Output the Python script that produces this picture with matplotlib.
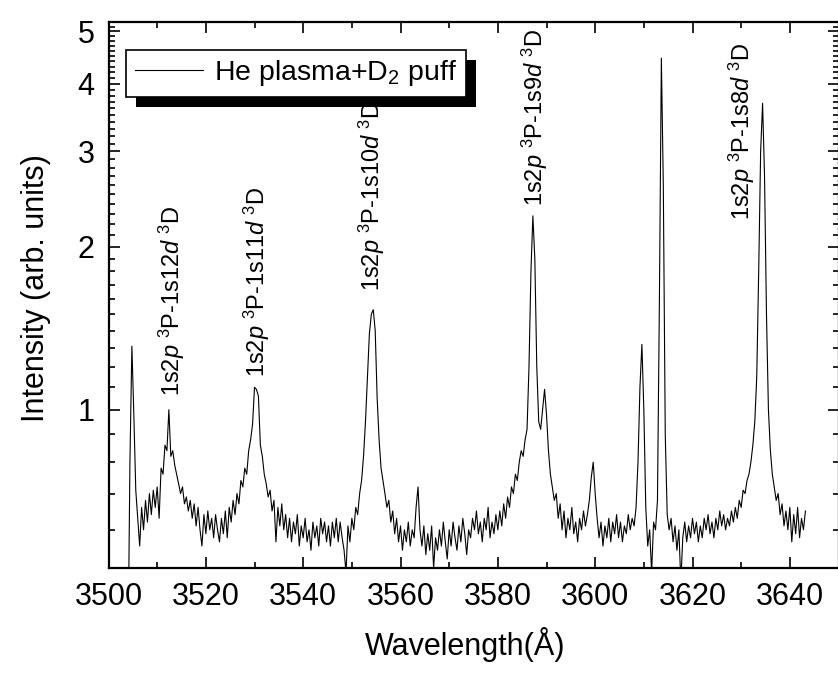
import numpy as np
import matplotlib
matplotlib.use('Agg')
import matplotlib.pyplot as plt
from matplotlib.patches import Rectangle
from matplotlib.ticker import NullFormatter

plt.rcParams['font.family'] = ['Liberation Sans', 'DejaVu Sans']
plt.rcParams['mathtext.fontset'] = 'custom'
plt.rcParams['mathtext.rm'] = 'Liberation Sans'
plt.rcParams['mathtext.it'] = 'Liberation Sans:italic'

# === data: spectrum, one point every 0.4 A from 3504.0 A ===
wl_start = 3504.0
wl_step = 0.4
intensity = [
    0.35, 0.80, 1.31, 0.98, 0.71, 0.63, 0.56, 0.66, 0.60, 0.68,   # 3504
    0.62, 0.70, 0.64, 0.71, 0.66, 0.72, 0.63, 0.78, 0.76, 0.86,   # 3508
    0.84, 1.00, 0.82, 0.84, 0.79, 0.76, 0.73, 0.70, 0.72, 0.67,   # 3512
    0.69, 0.65, 0.68, 0.63, 0.67, 0.61, 0.66, 0.60, 0.56, 0.64,   # 3516
    0.59, 0.65, 0.60, 0.63, 0.58, 0.64, 0.60, 0.57, 0.63, 0.59,   # 3520
    0.65, 0.58, 0.66, 0.62, 0.68, 0.64, 0.70, 0.67, 0.74, 0.72,   # 3524
    0.78, 0.76, 0.84, 0.88, 0.94, 1.10, 1.09, 1.06, 0.86, 0.82,   # 3528
    0.76, 0.73, 0.69, 0.71, 0.65, 0.68, 0.57, 0.66, 0.61, 0.67,   # 3532
    0.60, 0.64, 0.58, 0.63, 0.57, 0.62, 0.59, 0.64, 0.56, 0.61,   # 3536
    0.58, 0.63, 0.57, 0.60, 0.55, 0.62, 0.58, 0.61, 0.56, 0.63,   # 3540
    0.59, 0.62, 0.57, 0.61, 0.56, 0.62, 0.58, 0.63, 0.57, 0.62,   # 3544
    0.58, 0.55, 0.50, 0.61, 0.57, 0.63, 0.60, 0.66, 0.64, 0.70,   # 3548
    0.74, 0.82, 0.95, 1.15, 1.38, 1.50, 1.53, 1.40, 1.05, 0.88,   # 3552
    0.78, 0.74, 0.70, 0.66, 0.68, 0.62, 0.65, 0.59, 0.63, 0.57,   # 3556
    0.61, 0.55, 0.60, 0.57, 0.62, 0.56, 0.60, 0.58, 0.66, 0.72,   # 3560
    0.60, 0.56, 0.61, 0.54, 0.59, 0.55, 0.61, 0.51, 0.58, 0.55,   # 3564
    0.60, 0.56, 0.62, 0.57, 0.53, 0.60, 0.56, 0.62, 0.58, 0.55,   # 3568
    0.61, 0.57, 0.63, 0.59, 0.54, 0.60, 0.58, 0.63, 0.60, 0.65,   # 3572
    0.59, 0.62, 0.57, 0.63, 0.60, 0.66, 0.58, 0.62, 0.59, 0.64,   # 3576
    0.60, 0.65, 0.61, 0.67, 0.63, 0.69, 0.66, 0.72, 0.70, 0.76,   # 3580
    0.74, 0.80, 0.84, 0.82, 0.88, 0.92, 1.20, 1.80, 2.28, 1.90,   # 3584
    1.20, 0.95, 0.92, 1.00, 1.09, 0.98, 0.84, 0.76, 0.72, 0.68,   # 3588
    0.70, 0.63, 0.67, 0.60, 0.65, 0.58, 0.63, 0.60, 0.66, 0.59,   # 3592
    0.62, 0.57, 0.63, 0.60, 0.65, 0.61, 0.64, 0.68, 0.75, 0.80,   # 3596
    0.70, 0.63, 0.58, 0.62, 0.56, 0.61, 0.58, 0.63, 0.57, 0.62,   # 3600
    0.59, 0.64, 0.58, 0.62, 0.57, 0.61, 0.59, 0.64, 0.60, 0.63,   # 3604
    0.61, 0.66, 0.80, 1.10, 1.32, 1.00, 0.66, 0.56, 0.60, 0.50,   # 3608
    0.62, 0.60, 0.68, 1.60, 4.46, 2.60, 0.90, 0.64, 0.60, 0.63,   # 3612
    0.57, 0.61, 0.55, 0.60, 0.48, 0.58, 0.62, 0.57, 0.61, 0.58,   # 3616
    0.63, 0.59, 0.62, 0.57, 0.61, 0.58, 0.63, 0.60, 0.64, 0.59,   # 3620
    0.62, 0.58, 0.63, 0.60, 0.65, 0.61, 0.64, 0.60, 0.63, 0.61,   # 3624
    0.65, 0.62, 0.66, 0.63, 0.68, 0.66, 0.71, 0.70, 0.74, 0.76,   # 3628
    0.80, 0.86, 0.95, 1.15, 1.80, 3.00, 3.68, 2.70, 1.50, 1.00,   # 3632
    0.84, 0.76, 0.72, 0.68, 0.70, 0.64, 0.67, 0.61, 0.65, 0.60,   # 3636
    0.66, 0.57, 0.64, 0.59, 0.66, 0.58, 0.63, 0.60, 0.65,         # 3640
]
wavelength = wl_start + wl_step * np.arange(len(intensity))

# line identifications (label anchor = bottom centre of the rotated text)
line_names = [
    '1s2$\\mathit{p}$ $^3$P-1s12$\\mathit{d}$ $^3$D',
    '1s2$\\mathit{p}$ $^3$P-1s11$\\mathit{d}$ $^3$D',
    '1s2$\\mathit{p}$ $^3$P-1s10$\\mathit{d}$ $^3$D',
    '1s2$\\mathit{p}$ $^3$P-1s9$\\mathit{d}$ $^3$D',
    '1s2$\\mathit{p}$ $^3$P-1s8$\\mathit{d}$ $^3$D',
]
line_x = [3513.0, 3530.5, 3554.1, 3587.6, 3630.2]
line_y = [1.06, 1.15, 1.66, 2.38, 2.24]

fig = plt.figure(figsize=(8.38, 6.73), dpi=100)
ax = fig.add_axes([0.1295, 0.156, 0.8711, 0.8113])

ax.plot(wavelength, intensity, color='black', lw=0.8, label='He plasma+D$_2$ puff')

for name, x, y in zip(line_names, line_x, line_y):
    ax.text(x, y, name, rotation=90, ha='center', va='bottom', fontsize=17)

ax.set_yscale('log')
ax.set_xlim(3500, 3650)
ax.set_ylim(0.51, 5.2)

ax.set_xticks(np.arange(3500, 3660, 20))
ax.set_xticks(np.arange(3510, 3660, 20), minor=True)
ax.set_yticks([1, 2, 3, 4, 5])
ax.set_yticklabels(['1', '2', '3', '4', '5'])
ax.set_yticks([0.6, 0.7, 0.8, 0.9] + list(np.arange(1.1, 5.2, 0.1)), minor=True)
ax.yaxis.set_minor_formatter(NullFormatter())

ax.tick_params(which='both', direction='in', top=True, right=True, labelsize=22)
ax.tick_params(which='major', length=8, width=1.2, pad=10)
ax.tick_params(which='minor', length=4, width=1.2)
for s in ax.spines.values():
    s.set_linewidth(1.6)

ax.set_xlabel('Wavelength(Å)', fontsize=22, va='center')
ax.xaxis.set_label_coords(0.488, -0.141)
ax.set_ylabel('Intensity (arb. units)', fontsize=22, va='center')
ax.yaxis.set_label_coords(-0.10, 0.513)

leg = ax.legend(loc='upper left', bbox_to_anchor=(0.024, 0.949), borderaxespad=0,
                fontsize=20.5, fancybox=False, framealpha=1, edgecolor='black',
                handlelength=2.4, handletextpad=0.4, borderpad=0.3)
leg.get_frame().set_linewidth(1.2)

# black drop shadow under the legend box, like Origin
fig.canvas.draw()
bb = leg.get_frame().get_window_extent()
inv = ax.transAxes.inverted()
x0, y0 = inv.transform((bb.x0 + 10, bb.y0 - 10))
x1, y1 = inv.transform((bb.x1 + 10, bb.y1 - 10))
ax.add_patch(Rectangle((x0, y0), x1 - x0, y1 - y0, transform=ax.transAxes,
                       facecolor='black', edgecolor='none', zorder=4.9, clip_on=False))

fig.savefig('out.png', dpi=100)
